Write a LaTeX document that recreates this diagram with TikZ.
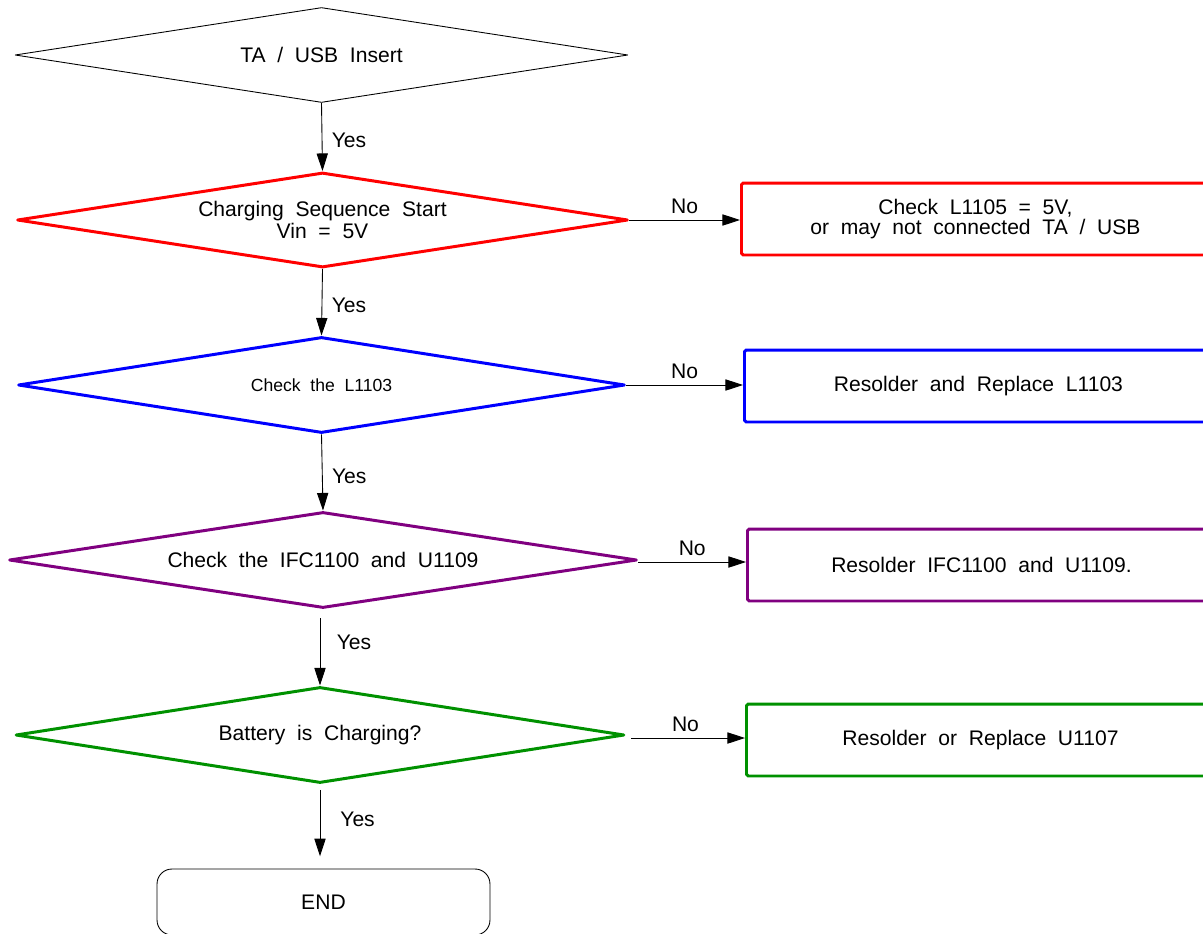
\documentclass[tikz,border=0pt]{standalone}
\usepackage{fontspec}
\setmainfont{Liberation Sans}[WordSpace=2]
\usepackage{tikz}
\usetikzlibrary{shapes.geometric, arrows.meta, positioning, calc}
\definecolor{flowRed}{RGB}{255, 0, 0}
\definecolor{flowBlue}{RGB}{0, 0, 255}
\definecolor{flowPurple}{RGB}{128, 0, 128}
\definecolor{flowGreen}{RGB}{0, 145, 0}
\tikzset{
  decision/.style={
    diamond, aspect=6.4, draw, inner sep=0pt, line join=round,
    align=center, font=\fontsize{12}{11}\selectfont
  },
  actbox/.style={
    rectangle, rounded corners=1pt,
    line width=1.7pt, anchor=west,
    minimum width=9.36cm, minimum height=1.44cm,
    align=center, font=\fontsize{12}{11}\selectfont
  },
  endbox/.style={
    rectangle, rounded corners=8.5pt, draw, line width=0.5pt,
    minimum width=6.66cm, minimum height=1.32cm,
    font=\fontsize{12}{11}\selectfont
  },
  flowarrow/.style={
    -{Triangle[length=10pt,width=6.4pt]},
    line width=0.5pt
  },
  anslabel/.style={
    font=\fontsize{12}{13}\selectfont
  }
}

\begin{document}
\begin{tikzpicture}[x=0.02cm, y=-0.02cm]
  \useasboundingbox (0,0) rectangle (1203,933);
  \clip (0,0) rectangle (1203,933);

  % decisions down the left
  \node[decision, line width=0.5pt, minimum width=12.26cm, minimum height=1.9cm] (insert) at (321.5,55) {TA / USB Insert};
  \node[decision, draw=flowRed, line width=1.7pt, minimum width=12.22cm, minimum height=1.9cm] (seq) at (322.5,220) {Charging Sequence Start\\Vin = 5V};
  \node[decision, draw=flowBlue, line width=1.7pt, minimum width=12.14cm, minimum height=1.92cm, font=\fontsize{10}{11}\selectfont] (coil) at (321.5,385) {Check the L1103};
  \node[decision, draw=flowPurple, line width=1.7pt, minimum width=12.56cm, minimum height=1.92cm] (ifc) at (323,560) {Check the IFC1100 and U1109};
  \node[decision, draw=flowGreen, line width=1.7pt, minimum width=12.18cm, minimum height=1.92cm] (batt) at (320,735) {Battery is Charging?};
  \node[endbox] (finish) at (323.5,902) {END};

  % repair boxes on the right
  \node[actbox, draw=flowRed] (fixvin) at (740,219) {Check L1105 = 5V,\\or may not connected TA / USB};
  \node[actbox, draw=flowBlue] (fixcoil) at (743,386) {Resolder and Replace L1103};
  \node[actbox, draw=flowPurple] (fixifc) at (746,565) {Resolder IFC1100 and U1109.};
  \node[actbox, draw=flowGreen] (fixbatt) at (745,740) {Resolder or Replace U1107};

  % yes branches
  \draw[flowarrow] (insert.south) -- node[right, anslabel, xshift=2pt, yshift=-2pt] {Yes} (seq.north);
  \draw[flowarrow] (seq.south) -- node[right, anslabel, xshift=2pt, yshift=-2pt] {Yes} (coil.north);
  \draw[flowarrow] (coil.south) -- node[right, anslabel, xshift=2pt, yshift=-2pt] {Yes} (ifc.north);
  \draw[flowarrow, shorten <=5pt] (ifc.south -| batt.north) -- node[right, anslabel, xshift=6pt, yshift=3pt] {Yes} (batt.north);
  \draw[flowarrow, shorten <=3pt, shorten >=7pt] (batt.south) -- node[right, anslabel, xshift=8pt, yshift=4pt] {Yes} (finish.north -| batt.south);

  % no branches
  \draw[flowarrow] (seq.east) -- node[above, anslabel] {No} (fixvin.west |- seq.east);
  \draw[flowarrow] (coil.east) -- node[above, anslabel] {No} (fixcoil.west |- coil.east);
  \draw[flowarrow] ($(ifc.east)+(0,2)$) -- node[above, anslabel] {No} (fixifc.west |- {$(ifc.east)+(0,2)$});
  \draw[flowarrow, shorten <=3pt] ($(batt.east)+(0,3)$) -- node[above, anslabel] {No} (fixbatt.west |- {$(batt.east)+(0,3)$});
\end{tikzpicture}
\end{document}
